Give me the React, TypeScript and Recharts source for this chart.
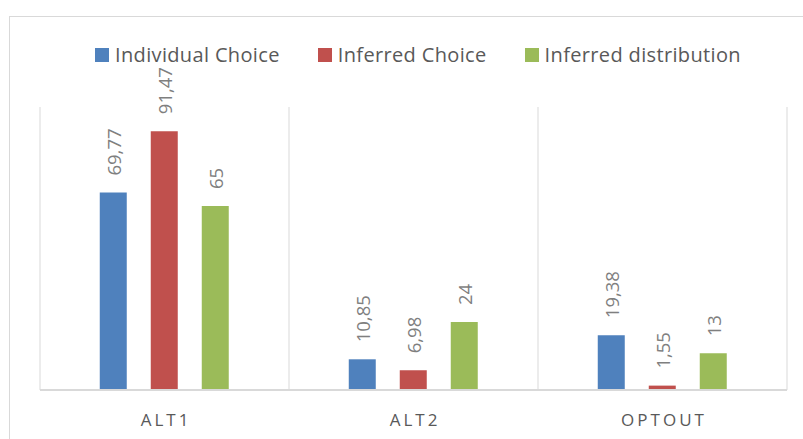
import React from "react";
import { BarChart, Bar, XAxis, YAxis, CartesianGrid, Legend, LabelList } from "recharts";

const categories = ["ALT1", "ALT2", "OPTOUT"];
const individualChoice = [69.77, 10.85, 19.38];
const inferredChoice = [91.47, 6.98, 1.55];
const inferredDistribution = [65, 24, 13];
const seriesNames = ["Individual Choice", "Inferred Choice", "Inferred distribution"];
const seriesColors = ["#4f81bd", "#c0504d", "#9bbb59"];
const gridTicks = [0, 1, 2, 3];

const data = categories.map((c, i) => ({
  name: c,
  idx: i + 0.5,
  s0: individualChoice[i],
  s1: inferredChoice[i],
  s2: inferredDistribution[i],
}));

const FONT = "'Open Sans', sans-serif";

const fmt = (v: number) => String(v).replace(".", ",");

const RotLabel = (props: any) => {
  const { x, y, width, value } = props;
  const cx = x + width / 2;
  const by = y - 17;
  return (
    <text
      x={cx}
      y={by}
      transform={`rotate(-90 ${cx} ${by})`}
      textAnchor="start"
      dominantBaseline="central"
      fontFamily={FONT}
      fontSize={18.5}
      fill="#7f7f7f"
    >
      {fmt(value)}
    </text>
  );
};

const LegendContent = () => (
  <div style={{ display: "flex", alignItems: "center", fontFamily: FONT, fontSize: 20, letterSpacing: 0.35, lineHeight: "24px", color: "#595959", whiteSpace: "nowrap" }}>
    {seriesNames.map((n, i) => (
      <div key={n} style={{ display: "flex", alignItems: "center", marginRight: i < 2 ? 38 : 0 }}>
        <span style={{ display: "inline-block", width: 14, height: 14, background: seriesColors[i], marginRight: 6 }} />
        <span>{n}</span>
      </div>
    ))}
  </div>
);

const CatTick = (props: any) => {
  const { x, payload } = props;
  return (
    <text
      x={x + 1.5}
      y={426}
      textAnchor="middle"
      fontFamily={FONT}
      fontSize={17}
      letterSpacing={3}
      fill="#595959"
    >
      {payload.value}
    </text>
  );
};

export default function App() {
  return (
    <div style={{ position: "absolute", left: 0, top: 0, width: 803, height: 439, overflow: "hidden", background: "#fff" }}>
      <div
        style={{
          position: "absolute",
          left: 9,
          top: 16,
          width: 820,
          height: 460,
          border: "1px solid #d9d9d9",
          boxSizing: "border-box",
        }}
      />
      <div style={{ position: "absolute", left: 0, top: 0 }}>
        <BarChart
          width={803}
          height={439}
          data={data}
          margin={{ top: 83, right: 16, bottom: 0, left: 40 }}
          barCategoryGap="24%"
          barGap={24}
        >
          <XAxis xAxisId="grid" type="number" dataKey="idx" domain={[0, 3]} ticks={gridTicks} hide />
          <CartesianGrid xAxisId="grid" horizontal={false} stroke="#d9d9d9" strokeWidth={1} />
          <XAxis
            dataKey="name"
            height={49}
            axisLine={{ stroke: "#d9d9d9", strokeWidth: 2 }}
            tickLine={false}
            tick={<CatTick />}
            interval={0}
          />
          <YAxis domain={[0, 100]} hide />
          <Legend
            verticalAlign="top"
            align="left"
            layout="horizontal"
            height={24}
            wrapperStyle={{ position: "absolute", top: 43, left: 95, width: "auto" }}
            content={<LegendContent />}
          />
          {["s0", "s1", "s2"].map((k, i) => (
            <Bar key={k} dataKey={k} name={seriesNames[i]} fill={seriesColors[i]} isAnimationActive={false}>
              <LabelList dataKey={k} content={<RotLabel />} />
            </Bar>
          ))}
        </BarChart>
      </div>
    </div>
  );
}
